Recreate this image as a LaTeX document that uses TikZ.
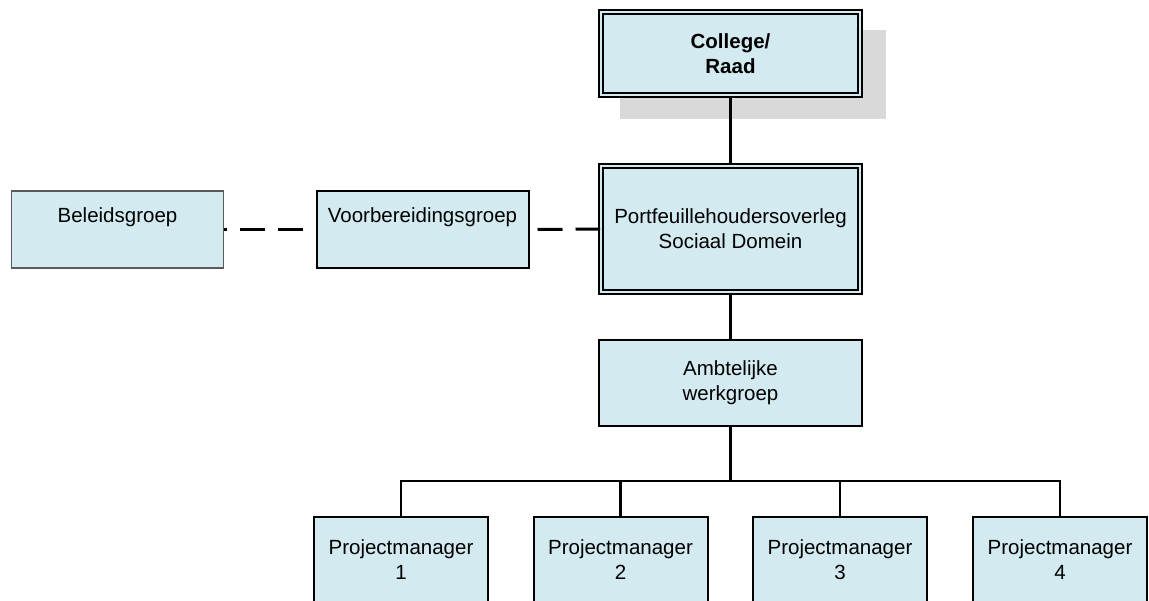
\documentclass[tikz,border=0pt]{standalone}
\usepackage{fontspec}
\setmainfont{Liberation Sans}
\definecolor{boxblue}{RGB}{210,234,240}
\definecolor{shadowgray}{RGB}{217,217,217}
\definecolor{thinborder}{RGB}{90,90,90}
\tikzset{
  dblbox/.style={draw=black, line width=1.8pt, double=boxblue, double distance=2.3pt,
    fill=boxblue, align=center, inner sep=0pt},
  plainbox/.style={draw=black, line width=2pt, fill=boxblue, align=center, inner sep=0pt},
  sidebox/.style={fill=boxblue, inner sep=0pt, text height=32pt, text depth=45pt,
    minimum width=212pt},
  conn/.style={line width=3pt, draw=black},
  busline/.style={line width=2.5pt, draw=black},
  dashconn/.style={line width=3pt, draw=black, dash pattern=on 25pt off 13pt}
}
\begin{document}
\begin{tikzpicture}[x=1pt, y=-1pt, font=\fontsize{20.5}{25}\selectfont]
\useasboundingbox (0,0) rectangle (1149,601);
\clip (0,0) rectangle (1149,601);
\fill[white] (0,0) rectangle (1149,601);
% shadow of College box
\fill[shadowgray] (620,30) rectangle (886,119);
\node[dblbox, minimum width=259pt, minimum height=83pt, font=\fontsize{20.5}{25}\selectfont\bfseries]
  (college) at (730.5,53.5) {College/\\Raad};
\node[dblbox, minimum width=259pt, minimum height=126pt]
  (portf) at (730.5,229) {Portfeuillehoudersoverleg\\Sociaal Domein};
\node[sidebox, draw=thinborder, line width=1.3pt] (beleid) at (117.5,229.5) {Beleidsgroep};
\node[sidebox, draw=black, line width=2pt] (voorb) at (422.5,229.5) {Voorbereidingsgroep};
\node[plainbox, minimum width=263pt, minimum height=86pt]
  (amb) at (730.5,383) {Ambtelijke\\werkgroep};
\node[plainbox, minimum width=174pt, minimum height=86pt] (pm1) at (401,560) {Projectmanager\\1};
\node[plainbox, minimum width=174pt, minimum height=86pt] (pm2) at (620.5,560) {Projectmanager\\2};
\node[plainbox, minimum width=174pt, minimum height=86pt] (pm3) at (840,560) {Projectmanager\\3};
\node[plainbox, minimum width=174pt, minimum height=86pt] (pm4) at (1060,560) {Projectmanager\\4};
\coordinate (bus) at (730.5,481);
% connectors
\draw[conn] (college.south) -- (portf.north);
\draw[conn] (portf.south) -- (amb.north);
\draw[dashconn, dash phase=22pt] (beleid.east) -- (voorb.west);
\draw[dashconn, dash phase=30pt] (voorb.east) -- (portf.west);
\draw[conn] (amb.south) -- (bus);
\draw[busline] (pm1.north) -- (pm1.north |- bus) -- (pm4.north |- bus) -- (pm4.north);
\draw[busline] (pm2.north) -- (pm2.north |- bus);
\draw[busline] (pm3.north) -- (pm3.north |- bus);
\end{tikzpicture}
\end{document}
